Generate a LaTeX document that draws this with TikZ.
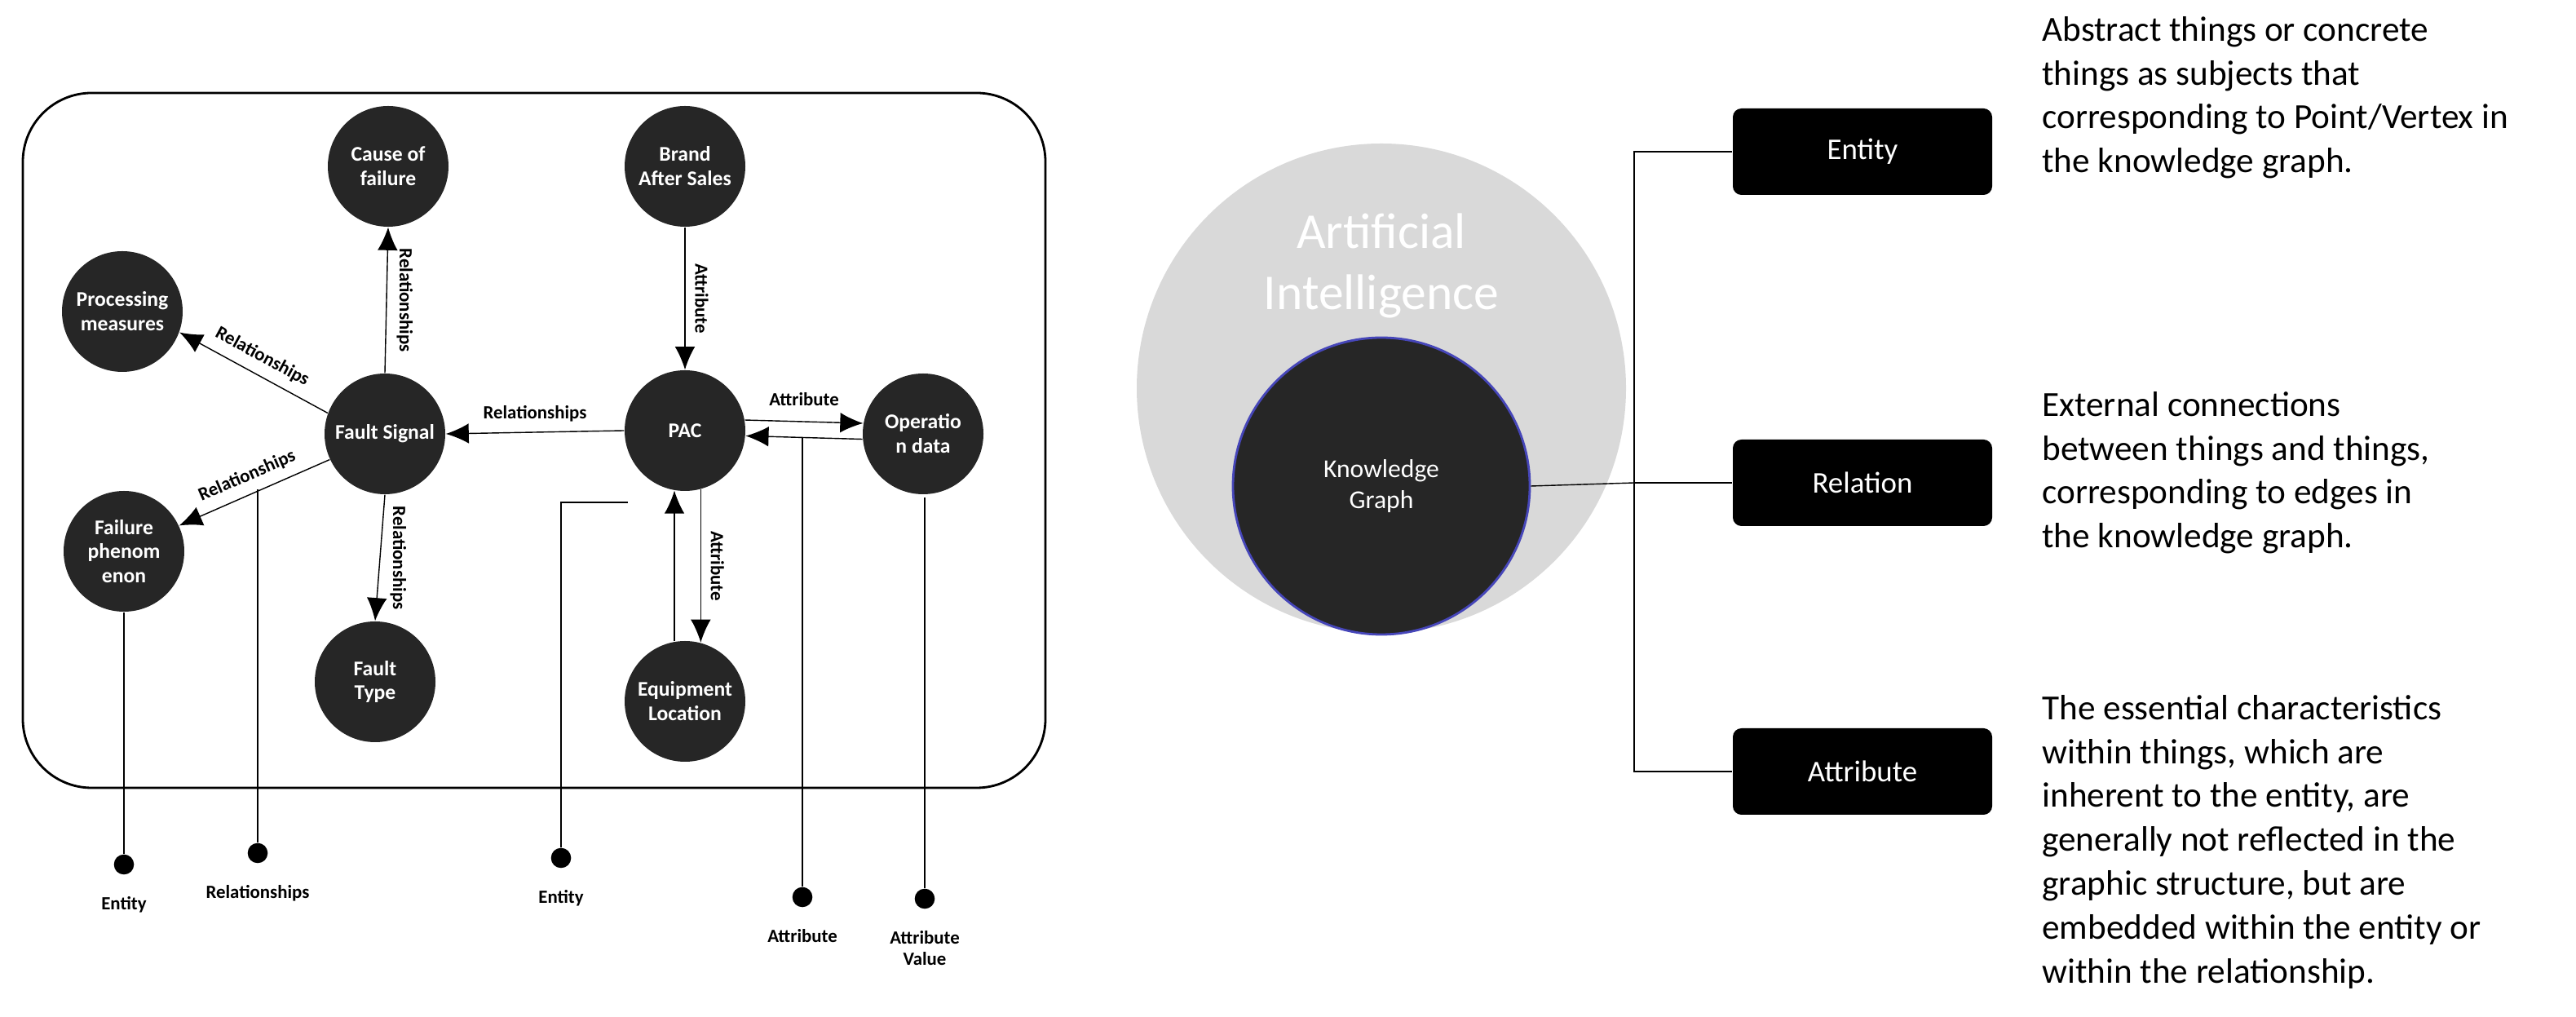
\documentclass[tikz,border=0pt]{standalone}
\usepackage{fontspec}
\setmainfont{Carlito}
\usetikzlibrary{arrows.meta,positioning}

\begin{document}
\begin{tikzpicture}[x=0.2mm,y=-0.2mm,
    ent/.style={circle,fill=black!85,minimum size=74*0.2mm,inner sep=0pt,
      text=white,font=\fontsize{7.3}{8.5}\selectfont\bfseries,align=center},
    rel/.style={-{Latex[length=8pt,width=7pt]},thin},
    lab/.style={font=\fontsize{6.5}{7.5}\selectfont\bfseries},
    dot/.style={circle,fill=black,minimum size=7pt,inner sep=0pt},
    box/.style={rounded corners=3pt,fill=black,text=white,minimum width=159*0.2mm,
      minimum height=53*0.2mm,font=\fontsize{10.5}{12}\selectfont},
    desc/.style={anchor=north west,align=left,font=\fontsize{12.3}{15.3}\selectfont}]
  \useasboundingbox (0,0) rectangle (1579.5,623.5);

  % left: example graph
  \draw[thick,rounded corners=24pt] (14,57) rectangle (641,483);
  \node[ent] (cause) at (238,102) {Cause of\\failure};
  \node[ent] (brand) at (420,102) {Brand\\After Sales};
  \node[ent] (proc) at (75,191) {Processing\\measures};
  \node[ent] (fault) at (236,266) {Fault Signal};
  \node[ent] (pac) at (420,264) {PAC};
  \node[ent] (oper) at (566,266) {Operatio\\n data};
  \node[ent] (phen) at (76,338) {Failure\\phenom\\enon};
  \node[ent] (type) at (230,418) {Fault\\Type};
  \node[ent] (loc) at (420,430) {Equipment\\Location};

  \draw[rel] (fault.north) -- node[lab,rotate=-90,anchor=south] {Relationships} (cause.south);
  \draw[rel] (fault.160) -- node[lab,sloped,above] {Relationships} (proc.340);
  \draw[rel] (fault.205) -- node[lab,sloped,above] {Relationships} (phen.25);
  \draw[rel] (fault.south) -- node[lab,rotate=-90,anchor=south] {Relationships} (type.north);
  \draw[rel] (pac.west) -- node[lab,above] {Relationships} (fault.east);
  \draw[rel] (brand.south) -- node[lab,rotate=-90,anchor=south] {Attribute} (pac.north);
  \draw[rel] (pac.10) -- node[lab,above=2pt] {Attribute} (oper.170);
  \draw[rel] (oper.185) -- (pac.355);
  \draw[rel] (pac.-75) -- node[lab,rotate=-90,anchor=south] {Attribute} (loc.75);
  \draw[rel] (loc.100) -- (pac.-100);

  % legend dots
  \node[dot] (d1) at (76,530) {};
  \node[dot] (d2) at (158,523) {};
  \node[dot] (d3) at (344,526) {};
  \node[dot] (d4) at (492,550) {};
  \node[dot] (d5) at (567,551) {};
  \coordinate (c2) at (158,300);
  \coordinate (c3) at (385,308);
  \coordinate (c4) at (492,268);
  \coordinate (c5) at (567,305);
  \draw (phen.south) -- (d1);
  \draw (c2) -- (d2);
  \draw (c3) -- (c3 -| d3) -- (d3);
  \draw (c4) -- (d4);
  \draw (c5) -- (d5);
  \node[lab,below=4pt of d1] {Entity};
  \node[lab,below=4pt of d2] {Relationships};
  \node[lab,below=4pt of d3] {Entity};
  \node[lab,below=4pt of d4] {Attribute};
  \node[lab,below=4pt of d5,align=center] {Attribute\\Value};

  % right: knowledge graph
  \node[circle,fill=black!15,minimum size=300*0.2mm] (ai) at (847,238) {};
  \node[text=white,align=center,font=\fontsize{17.5}{21.5}\selectfont] at (847,163) {Artificial\\Intelligence};
  \node[circle,fill=black!85,draw=blue!45!gray,thick,minimum size=182*0.2mm,
    text=white,align=center,font=\fontsize{9}{11}\selectfont] (kg) at (847,298) {Knowledge\\Graph};

  \node[box] (entity) at (1142,93) {Entity};
  \node[box] (relation) at (1142,296) {Relation};
  \node[box] (attribute) at (1142,473) {Attribute};
  \coordinate (br) at (1002,296);
  \draw (kg.east) -- (br);
  \draw (entity.west) -- (entity.west -| br) -- (attribute.west -| br) -- (attribute.west);
  \draw (br) -- (relation.west);

  \node[desc] at (1246,4) {Abstract things or concrete\\things as subjects that\\corresponding to Point/Vertex in\\the knowledge graph.};
  \node[desc] at (1246,234) {External connections\\between things and things,\\corresponding to edges in\\the knowledge graph.};
  \node[desc] at (1246,420) {The essential characteristics\\within things, which are\\inherent to the entity, are\\generally not reflected in the\\graphic structure, but are\\embedded within the entity or\\within the relationship.};
\end{tikzpicture}
\end{document}
